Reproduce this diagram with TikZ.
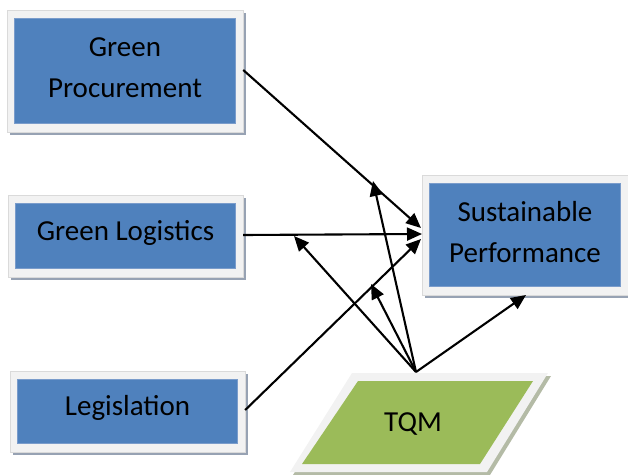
\documentclass[tikz,border=0pt]{standalone}
\usepackage{fontspec}
\setmainfont{Carlito}
\usetikzlibrary{arrows.meta,shadows}
\definecolor{boxblue}{HTML}{4F81BD}
\definecolor{boxedge}{HTML}{7A9CCB}
\definecolor{framegray}{HTML}{F2F2F2}
\definecolor{shadowgray}{HTML}{97A2B3}
\definecolor{tqmgreen}{HTML}{9BBB59}
\definecolor{tqmshadow}{HTML}{B4BBA6}
\begin{document}
\begin{tikzpicture}[x=1pt,y=-1pt,
  framebox/.style={rectangle, inner sep=0pt, fill=framegray, draw=framegray!90!black, line width=0.4pt,
    align=center, font=\fontsize{29}{41}\selectfont,
    drop shadow={shadow xshift=3pt, shadow yshift=-3pt, fill=shadowgray, opacity=1},
    path picture={\fill[boxblue, draw=boxedge, line width=0.6pt]
      ([shift={(7.5pt,-8.5pt)}]path picture bounding box.north west) rectangle
      ([shift={(-7.5pt,8.5pt)}]path picture bounding box.south east);}},
  twoline/.style={framebox, text depth=6pt},
  oneline/.style={framebox, text depth=12pt},
  conn/.style={line width=2.1pt, -{Triangle[length=15pt,width=13pt]}}]
\useasboundingbox (0,0) rectangle (628,474);
% boxes
\node[twoline, minimum width=236pt, minimum height=122pt] (gp) at (125,71) {Green\\Procurement};
\node[oneline, minimum width=235pt, minimum height=82pt] (gl) at (125.5,236) {Green Logistics};
\node[oneline, minimum width=235pt, minimum height=81pt] (leg) at (127.5,411.5) {Legislation};
\node[twoline, minimum width=206pt, minimum height=120pt] (sp) at (525,235) {Sustainable\\Performance};
% TQM parallelogram
\fill[tqmshadow] (355,376) -- (551,376) -- (490,475) -- (293,475) -- cycle;
\fill[framegray] (352,373) -- (548,373) -- (487,472) -- (290,472) -- cycle;
\fill[tqmgreen] (358,381) -- (533,381) -- (480,464) -- (302,464) -- cycle;
\node[font=\fontsize{29}{34}\selectfont] (tqm) at (413,424) {TQM};
% connector end points
\coordinate (tqmtop) at (416,372);
\coordinate (spA) at (421,228);
\coordinate (spB) at (422,234);
\coordinate (spC) at (421,239);
\coordinate (onGP) at (373,181);
\coordinate (onGL) at (294,236);
\coordinate (onLeg) at (371,284);
\coordinate (spBottom) at (526,295);
% connectors
\draw[conn] (gp.east |- 0,70) -- (spA);
\draw[conn] (gl.east |- 0,235) -- (spB);
\draw[conn] (leg.east |- 0,410) -- (spC);
\draw[conn] (tqmtop) -- (onGP);
\draw[conn] (tqmtop) -- (onGL);
\draw[conn] (tqmtop) -- (onLeg);
\draw[conn] (tqmtop) -- (spBottom);
\end{tikzpicture}
\end{document}
